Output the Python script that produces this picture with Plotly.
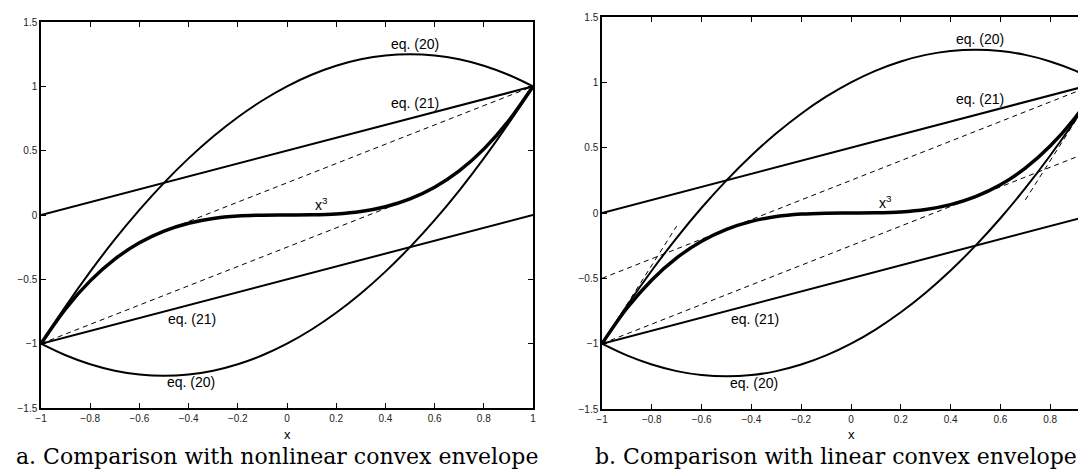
import plotly.graph_objects as go

# ---------------- data ----------------
X_GRID = [-1.0, -0.9, -0.8, -0.7, -0.6, -0.5, -0.4, -0.3, -0.2, -0.1, 0.0,
          0.1, 0.2, 0.3, 0.4, 0.5, 0.6, 0.7, 0.8, 0.9, 1.0]
CUBIC_Y = [-1.0, -0.729, -0.512, -0.343, -0.216, -0.125, -0.064, -0.027, -0.008, -0.001, 0.0,
           0.001, 0.008, 0.027, 0.064, 0.125, 0.216, 0.343, 0.512, 0.729, 1.0]
EQ20_UPPER_Y = [-1.0, -0.71, -0.44, -0.19, 0.04, 0.25, 0.44, 0.61, 0.76, 0.89, 1.0,
                1.09, 1.16, 1.21, 1.24, 1.25, 1.24, 1.21, 1.16, 1.09, 1.0]
EQ20_LOWER_Y = [-1.0, -1.09, -1.16, -1.21, -1.24, -1.25, -1.24, -1.21, -1.16, -1.09, -1.0,
                -0.89, -0.76, -0.61, -0.44, -0.25, -0.04, 0.19, 0.44, 0.71, 1.0]

EQ21_X = [-1.0, 1.0]
EQ21_UPPER_Y = [0.0, 1.0]
EQ21_LOWER_Y = [-1.0, 0.0]

# panel a: nonlinear envelope (dashed)
ENV_A_LOW_X = [-1.0, 0.5]
ENV_A_LOW_Y = [-1.0, 0.125]
ENV_A_UP_X = [-0.5, 1.0]
ENV_A_UP_Y = [-0.125, 1.0]

# panel b: linear envelope, tangent lines (dashed)
TAN_LOW_X = [-1.0, 1.0]
TAN_LOW_Y = [-1.0, 0.5]
TAN_UP_X = [-1.0, 1.0]
TAN_UP_Y = [-0.5, 1.0]
TAN_LEFT_X = [-1.0, -0.7]
TAN_LEFT_Y = [-1.0, -0.1]
TAN_RIGHT_X = [0.7, 1.0]
TAN_RIGHT_Y = [0.1, 1.0]

X_TICKS = [-1, -0.8, -0.6, -0.4, -0.2, 0, 0.2, 0.4, 0.6, 0.8, 1]
X_TICK_TEXT = ["\u22121", "\u22120.8", "\u22120.6", "\u22120.4", "\u22120.2", "0",
               "0.2", "0.4", "0.6", "0.8", "1"]
Y_TICKS = [-1.5, -1, -0.5, 0, 0.5, 1, 1.5]
Y_TICK_TEXT = ["\u22121.5", "\u22121", "\u22120.5", "0", "0.5", "1", "1.5"]

LABELS = ["eq. (20)", "eq. (21)", "x<sup>3</sup>", "eq. (21)", "eq. (20)"]
LABEL_X = [0.52, 0.52, 0.14, -0.385, -0.39]
LABEL_Y = [1.33, 0.87, 0.085, -0.81, -1.30]

CAPTIONS = ["a. Comparison with nonlinear convex envelope",
            "b. Comparison with linear convex envelope"]

# ---------------- figure ----------------
W, H = 1086, 471
fig = go.Figure()

BLACK = "black"


def add_line(x, y, xa, ya, width, dash="solid", spline=False):
    fig.add_trace(go.Scatter(
        x=x, y=y, xaxis=xa, yaxis=ya, mode="lines",
        line=dict(color=BLACK, width=width, dash=dash,
                  shape="spline" if spline else "linear", smoothing=1.0),
        showlegend=False, hoverinfo="skip"))


DASH = "5px,4px"
for xa, ya, panel in [("x", "y", "a"), ("x2", "y2", "b")]:
    if panel == "a":
        add_line(ENV_A_LOW_X, ENV_A_LOW_Y, xa, ya, 1, DASH)
        add_line(ENV_A_UP_X, ENV_A_UP_Y, xa, ya, 1, DASH)
    else:
        add_line(TAN_LOW_X, TAN_LOW_Y, xa, ya, 1, DASH)
        add_line(TAN_UP_X, TAN_UP_Y, xa, ya, 1, DASH)
        add_line(TAN_LEFT_X, TAN_LEFT_Y, xa, ya, 1, DASH)
        add_line(TAN_RIGHT_X, TAN_RIGHT_Y, xa, ya, 1, DASH)
    add_line(X_GRID, EQ20_UPPER_Y, xa, ya, 2, spline=True)
    add_line(X_GRID, EQ20_LOWER_Y, xa, ya, 2, spline=True)
    add_line(EQ21_X, EQ21_UPPER_Y, xa, ya, 2)
    add_line(EQ21_X, EQ21_LOWER_Y, xa, ya, 2)
    add_line(X_GRID, CUBIC_Y, xa, ya, 3.5, spline=True)

tickfont = dict(family="Liberation Sans, Arial, sans-serif", size=10, color="#222")

common_x = dict(tickmode="array", tickvals=X_TICKS, ticktext=X_TICK_TEXT,
                ticks="inside", ticklen=5, tickwidth=1, tickcolor=BLACK,
                showline=True, linecolor=BLACK, linewidth=1.5,
                showgrid=False, zeroline=False, tickfont=tickfont,
                automargin=False, fixedrange=True)
common_y = dict(tickmode="array", tickvals=Y_TICKS, ticktext=Y_TICK_TEXT,
                ticks="inside", ticklen=5, tickwidth=1, tickcolor=BLACK,
                showline=True, linecolor=BLACK, linewidth=1.5,
                showgrid=False, zeroline=False, tickfont=tickfont,
                automargin=False, fixedrange=True, range=[-1.5, 1.5])

# pixel geometry
a_l, a_r, a_t, a_b = 33, 525, 14, 400
b_l, b_t, b_b = 594, 9, 401
b_px_per_unit = 249.0
b_xmax = -1 + (W - b_l) / b_px_per_unit

fig.update_layout(
    width=W, height=H,
    margin=dict(l=0, r=0, t=0, b=0),
    paper_bgcolor="white", plot_bgcolor="white",
    xaxis=dict(domain=[a_l / W, a_r / W], anchor="y", range=[-1, 1],
               mirror="ticks", **common_x),
    yaxis=dict(domain=[1 - a_b / H, 1 - a_t / H], anchor="x",
               mirror="ticks", **common_y),
    xaxis2=dict(domain=[b_l / W, 1.0], anchor="y2", range=[-1, b_xmax],
                mirror="ticks", **common_x),
    yaxis2=dict(domain=[1 - b_b / H, 1 - b_t / H], anchor="x2",
                mirror=False, **common_y),
)

annos = []
label_font = dict(family="Liberation Sans, Arial, sans-serif", size=14, color=BLACK)
for xa, ya in [("x", "y"), ("x2", "y2")]:
    for t, lx, ly in zip(LABELS, LABEL_X, LABEL_Y):
        annos.append(dict(x=lx, y=ly, xref=xa, yref=ya, text=t, showarrow=False,
                          font=label_font, xanchor="center", yanchor="middle"))

# axis titles "x"
xt_font = dict(family="Liberation Sans, Arial, sans-serif", size=13, color=BLACK)
annos.append(dict(x=(a_l + a_r) / 2 / W, y=1 - 426 / H, xref="paper", yref="paper",
                  text="x", showarrow=False, font=xt_font,
                  xanchor="center", yanchor="middle"))
annos.append(dict(x=(b_l + b_l + 2 * b_px_per_unit) / 2 / W, y=1 - 426 / H,
                  xref="paper", yref="paper",
                  text="x", showarrow=False, font=xt_font,
                  xanchor="center", yanchor="middle"))

cap_font = dict(family="DejaVu Serif, serif", size=22, color=BLACK)
annos.append(dict(x=269 / W, y=1 - 448 / H, xref="paper", yref="paper",
                  text=CAPTIONS[0], showarrow=False, font=cap_font,
                  xanchor="center", yanchor="middle"))
annos.append(dict(x=828 / W, y=1 - 448 / H, xref="paper", yref="paper",
                  text=CAPTIONS[1], showarrow=False, font=cap_font,
                  xanchor="center", yanchor="middle"))

fig.update_layout(annotations=annos)
fig.write_html("out.html")
